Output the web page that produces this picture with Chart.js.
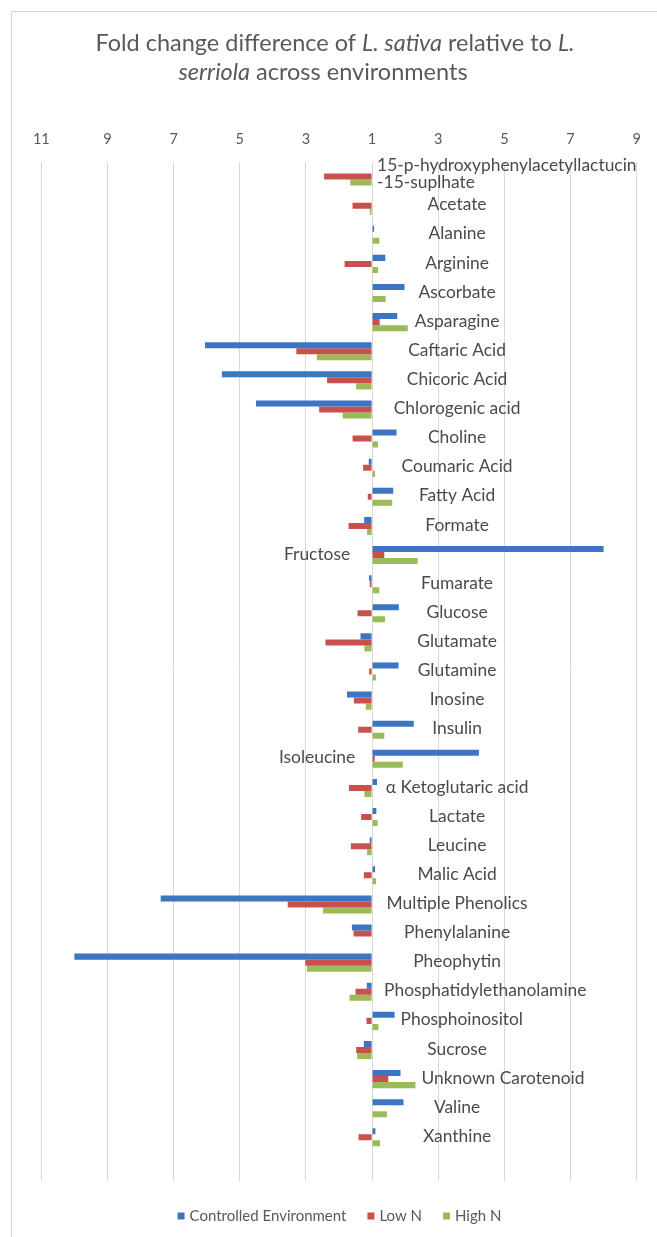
<!DOCTYPE html>
<html>
<head>
<meta charset="utf-8">
<script src="https://cdn.jsdelivr.net/npm/chart.js@4.4.1/dist/chart.umd.min.js"></script>
<style>
  html, body { margin: 0; padding: 0; background: #ffffff; }
  canvas { display: block; }
</style>
</head>
<body>
<canvas id="chart" width="657" height="1237"></canvas>
<script>
// Metabolites (top to bottom); the trailing blank row leaves an empty band at the foot of the plot
const categories = [
  ['15-p-hydroxyphenylacetyllactucin', '-15-suplhate'],
  'Acetate', 'Alanine', 'Arginine', 'Ascorbate', 'Asparagine',
  'Caftaric Acid', 'Chicoric Acid', 'Chlorogenic acid', 'Choline', 'Coumaric Acid',
  'Fatty Acid', 'Formate', 'Fructose', 'Fumarate', 'Glucose',
  'Glutamate', 'Glutamine', 'Inosine', 'Insulin', 'Isoleucine',
  'α Ketoglutaric acid', 'Lactate', 'Leucine', 'Malic Acid', 'Multiple Phenolics',
  'Phenylalanine', 'Pheophytin', 'Phosphatidylethanolamine', 'Phosphoinositol', 'Sucrose',
  'Unknown Carotenoid', 'Valine', 'Xanthine',
  ''
];

// Fold changes: positive = higher in L. sativa, negative = n-fold lower, null = no bar
const controlledEnv = [
  null, null, 1.06, 1.40, 1.98, 1.76,
  -6.05, -5.54, -4.51, 1.74, -1.10,
  1.64, -1.24, 8.00, -1.09, 1.81,
  -1.35, 1.80, -1.76, 2.26, 4.23,
  1.15, 1.13, -1.07, 1.09, -7.39,
  -1.61, -10.00, -1.16, 1.68, -1.25,
  1.86, 1.95, 1.10,
  null
];
const lowN = [
  -2.45, -1.59, null, -1.83, null, 1.23,
  -3.29, -2.36, -2.60, -1.59, -1.27,
  -1.13, -1.71, 1.37, -1.07, -1.44,
  -2.41, -1.09, -1.55, -1.42, 1.08,
  -1.70, -1.33, -1.64, -1.25, -3.55,
  -1.56, -3.02, -1.50, -1.17, -1.48,
  1.49, null, -1.41,
  null
];
const highN = [
  -1.66, -1.07, 1.22, 1.18, 1.41, 2.08,
  -2.67, -1.48, -1.89, 1.18, 1.09,
  1.61, -1.15, 2.38, 1.22, 1.39,
  -1.23, 1.12, -1.19, 1.37, 1.93,
  -1.23, 1.17, -1.15, 1.12, -2.48,
  null, -2.97, -1.68, 1.19, -1.45,
  2.31, 1.45, 1.24,
  null
];

const seriesNames = ['Controlled Environment', 'Low N', 'High N'];
const seriesColors = ['#3C75C2', '#C8514D', '#9BBB59'];

// Axis ticks: both halves count outward from 1
const tickValues = [-9, -7, -5, -3, -1, 1, 3, 5, 7, 9];
const tickLabels = ['11', '9', '7', '5', '3', '1', '3', '5', '7', '9'];

// An n-fold decrease sits at 2 - n on the axis so both directions start from 1
const toAxis = v => (v == null ? null : (v >= 0 ? v : 2 + v));

const TEXT = '#595959';
const FONT = 'Lato, "Open Sans", sans-serif';

const titleLines = [
  [['Fold change difference of ', false], ['L. sativa', true], [' relative to ', false], ['L.', true]],
  [['serriola', true], [' across environments', false]]
];

const framePlugin = {
  id: 'frame',
  beforeDraw(chart) {
    const ctx = chart.ctx;
    ctx.save();
    ctx.fillStyle = '#ffffff';
    ctx.fillRect(0, 0, chart.width, chart.height);
    ctx.strokeStyle = '#d9d9d9';
    ctx.lineWidth = 1;
    ctx.strokeRect(11.5, 11.5, chart.width + 20, chart.height + 20);
    ctx.restore();
  }
};

const titlePlugin = {
  id: 'mixedTitle',
  afterDraw(chart) {
    const ctx = chart.ctx;
    const centers = [335, 323];
    const ys = [43, 72];
    ctx.save();
    ctx.fillStyle = TEXT;
    ctx.textBaseline = 'middle';
    ctx.textAlign = 'left';
    titleLines.forEach((segs, li) => {
      const widths = segs.map(([t, it]) => {
        ctx.font = (it ? 'italic ' : '') + '23.5px ' + FONT;
        return ctx.measureText(t).width;
      });
      let x = centers[li] - widths.reduce((a, b) => a + b, 0) / 2;
      segs.forEach(([t, it], k) => {
        ctx.font = (it ? 'italic ' : '') + '23.5px ' + FONT;
        ctx.fillText(t, x, ys[li]);
        x += widths[k];
      });
    });
    ctx.restore();
  }
};

const categoryLabelPlugin = {
  id: 'categoryLabels',
  afterDatasetsDraw(chart) {
    const ctx = chart.ctx;
    const xs = chart.scales.x, ys = chart.scales.y;
    const axisPx = xs.getPixelForValue(1);
    ctx.save();
    ctx.font = '17.4px ' + FONT;
    ctx.fillStyle = '#4a4a4a';
    ctx.textBaseline = 'middle';
    categories.forEach((label, i) => {
      if (!label || (Array.isArray(label) && !label.length)) return;
      const cy = ys.getPixelForValue(i) - 1;
      let maxEnd = axisPx;
      chart.data.datasets.forEach((ds, d) => {
        const v = ds.data[i];
        if (v != null && v > 1) maxEnd = Math.max(maxEnd, chart.getDatasetMeta(d).data[i].x);
      });
      ctx.textAlign = 'left';
      if (Array.isArray(label)) {
        label.forEach((line, k) => {
          ctx.fillText(line, axisPx + 5, cy - 2 + (k - (label.length - 1) / 2) * 17);
        });
        return;
      }
      const w = ctx.measureText(label).width;
      if (maxEnd - axisPx > 60) {
        // long increase bars push the name to the other side of the axis
        ctx.textAlign = 'center';
        ctx.fillText(label, axisPx - 55, cy);
        return;
      }
      let left = Math.max(axisPx + 85 - w / 2, axisPx + 12);
      left = Math.max(left, maxEnd + 6);
      ctx.fillText(label, left, cy);
    });
    ctx.restore();
  }
};

const legendPlugin = {
  id: 'bottomLegend',
  afterDraw(chart) {
    const ctx = chart.ctx;
    ctx.save();
    ctx.font = '15px ' + FONT;
    ctx.textBaseline = 'middle';
    ctx.textAlign = 'left';
    const box = 7, boxGap = 5, itemGap = 21;
    const items = chart.data.datasets.map(ds => ({
      text: ds.label, color: ds.backgroundColor, w: ctx.measureText(ds.label).width
    }));
    const total = items.reduce((s, it) => s + box + boxGap + it.w, 0) + itemGap * (items.length - 1);
    let x = 339.5 - total / 2;
    const y = 1216;
    items.forEach(it => {
      ctx.fillStyle = it.color;
      ctx.fillRect(x, y - box / 2, box, box);
      ctx.fillStyle = TEXT;
      ctx.fillText(it.text, x + box + boxGap, y);
      x += box + boxGap + it.w + itemGap;
    });
    ctx.restore();
  }
};

const seriesData = [controlledEnv, lowN, highN];

new Chart(document.getElementById('chart'), {
  type: 'bar',
  data: {
    labels: categories,
    datasets: seriesData.map((arr, k) => ({
      label: seriesNames[k],
      data: arr.map(toAxis),
      backgroundColor: seriesColors[k],
      borderWidth: 0,
      base: 1,
      categoryPercentage: 0.62,
      barPercentage: 1.0
    }))
  },
  options: {
    indexAxis: 'y',
    responsive: false,
    animation: false,
    devicePixelRatio: 1,
    layout: { padding: { top: 122, left: 41.3, right: 20.3, bottom: 56 } },
    plugins: {
      legend: { display: false },
      title: { display: false },
      tooltip: { enabled: false }
    },
    scales: {
      x: {
        type: 'linear',
        position: 'top',
        min: -9,
        max: 9,
        afterBuildTicks: s => { s.ticks = tickValues.map(v => ({ value: v })); },
        afterFit: s => { s.height = 40; },
        ticks: {
          autoSkip: false,
          maxRotation: 0,
          padding: 13.6,
          color: TEXT,
          font: { family: FONT, size: 14.5 },
          callback: (v, i) => tickLabels[i]
        },
        grid: { color: '#d9d9d9', lineWidth: 1, drawTicks: false },
        border: { display: false }
      },
      y: {
        type: 'category',
        display: false,
        grid: { display: false }
      }
    }
  },
  plugins: [framePlugin, titlePlugin, categoryLabelPlugin, legendPlugin]
});
</script>
</body>
</html>
